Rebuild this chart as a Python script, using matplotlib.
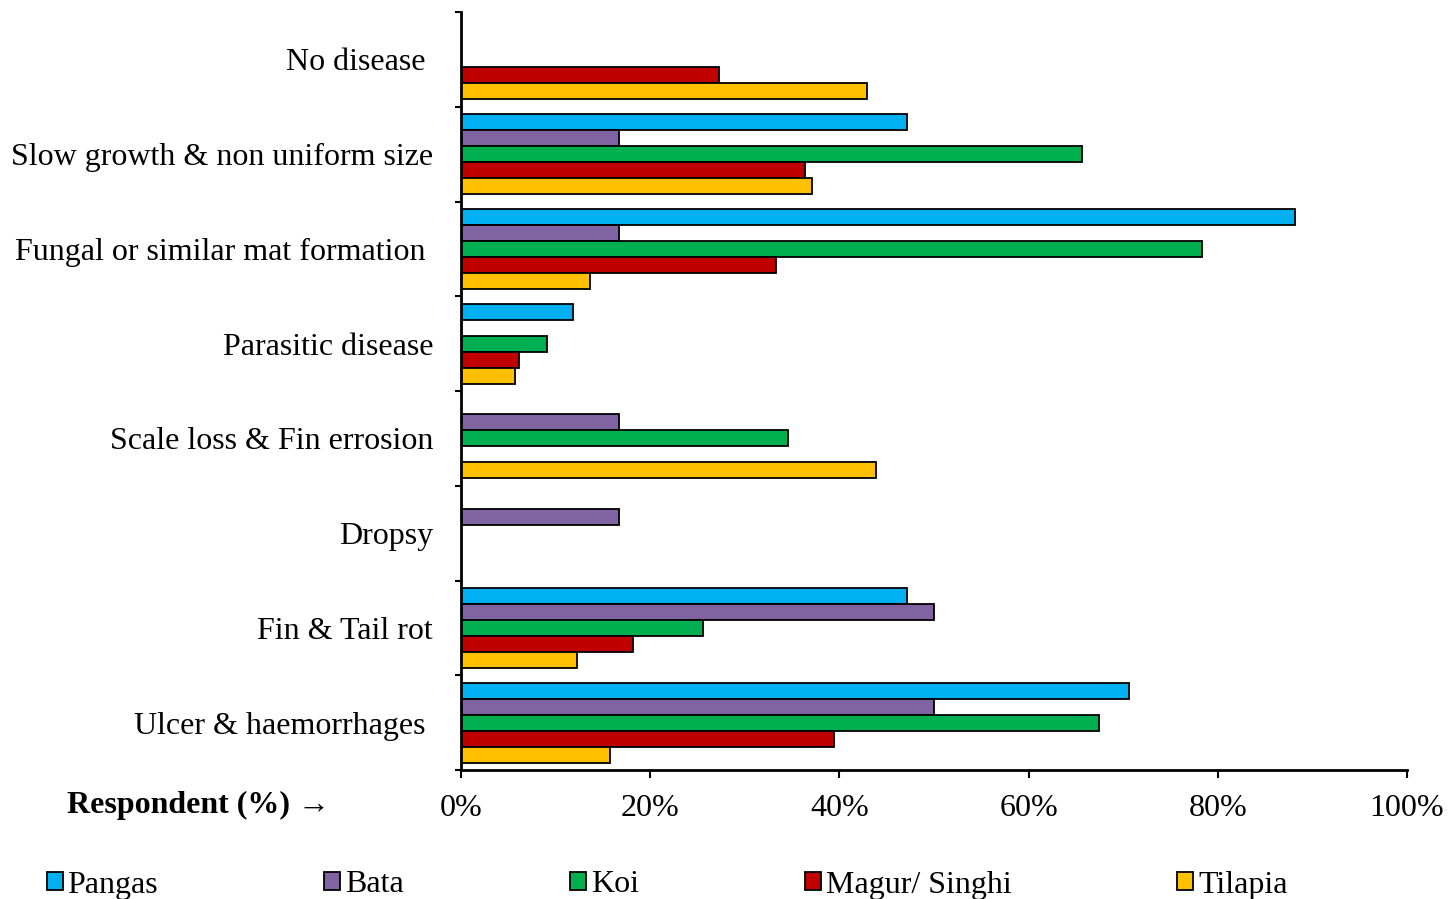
import numpy as np
import matplotlib.pyplot as plt

plt.rcParams['font.family'] = ['Liberation Serif', 'DejaVu Serif']

# categories listed bottom to top
diseases = ['Ulcer & haemorrhages ', 'Fin & Tail rot', 'Dropsy', 'Scale loss & Fin errosion',
            'Parasitic disease', 'Fungal or similar mat formation ', 'Slow growth & non uniform size',
            'No disease ']
species = ['Pangas', 'Bata', 'Koi', 'Magur/ Singhi', 'Tilapia']
colors = ['#00B0F0', '#8064A2', '#00B050', '#C00000', '#FFC000']

pangas = [70.6, 47.1, 0, 0, 11.8, 88.2, 47.1, 0]
bata = [50.0, 50.0, 16.7, 16.7, 0, 16.7, 16.7, 0]
koi = [67.4, 25.6, 0, 34.6, 9.1, 78.3, 65.6, 0]
magur = [39.4, 18.2, 0, 0, 6.1, 33.3, 36.4, 27.3]
tilapia = [15.8, 12.3, 0, 43.9, 5.7, 13.6, 37.1, 42.9]
series = [pangas, bata, koi, magur, tilapia]

fs = 23

fig = plt.figure(figsize=(14.48, 8.99), dpi=100)
ax = fig.add_axes([461/1448, 1 - 770/899, 946/1448, 758/899])

y = np.arange(len(diseases))
h = 0.169
for i, (vals, name, c) in enumerate(zip(series, species, colors)):
    ax.barh(y + (2 - i) * h, vals, height=h, color=c, edgecolor='black',
            linewidth=1.3, label=name)

ax.set_ylim(-0.5, len(diseases) - 0.5)
ax.set_xlim(0, 100)
ax.set_yticks(y)
ax.set_yticklabels(diseases, fontsize=fs)
ax.set_yticks(np.arange(-0.5, len(diseases)), minor=True)
ax.tick_params(axis='y', which='major', length=0, pad=20)
ax.tick_params(axis='y', which='minor', length=4.5, width=1.5, direction='out')
ax.set_xticks(np.arange(0, 101, 20))
ax.set_xticklabels([f'{v}%' for v in range(0, 101, 20)], fontsize=fs)
ax.tick_params(axis='x', length=6, width=1.5, direction='out', pad=11)

for s in ['top', 'right']:
    ax.spines[s].set_visible(False)
for s in ['left', 'bottom']:
    ax.spines[s].set_linewidth(2)

fig.text(330/1448, 1 - 805/899, 'Respondent (%) \u2192', fontsize=fs, fontweight='bold',
         ha='right', va='center')

fig.legend(loc='center left', bbox_to_anchor=(34/1448, 1 - 885/899), ncol=5, frameon=False,
           fontsize=fs, handlelength=0.5, handleheight=0.5, handletextpad=0.15,
           columnspacing=5.2, borderaxespad=0)

fig.savefig('out.png', dpi=100)
